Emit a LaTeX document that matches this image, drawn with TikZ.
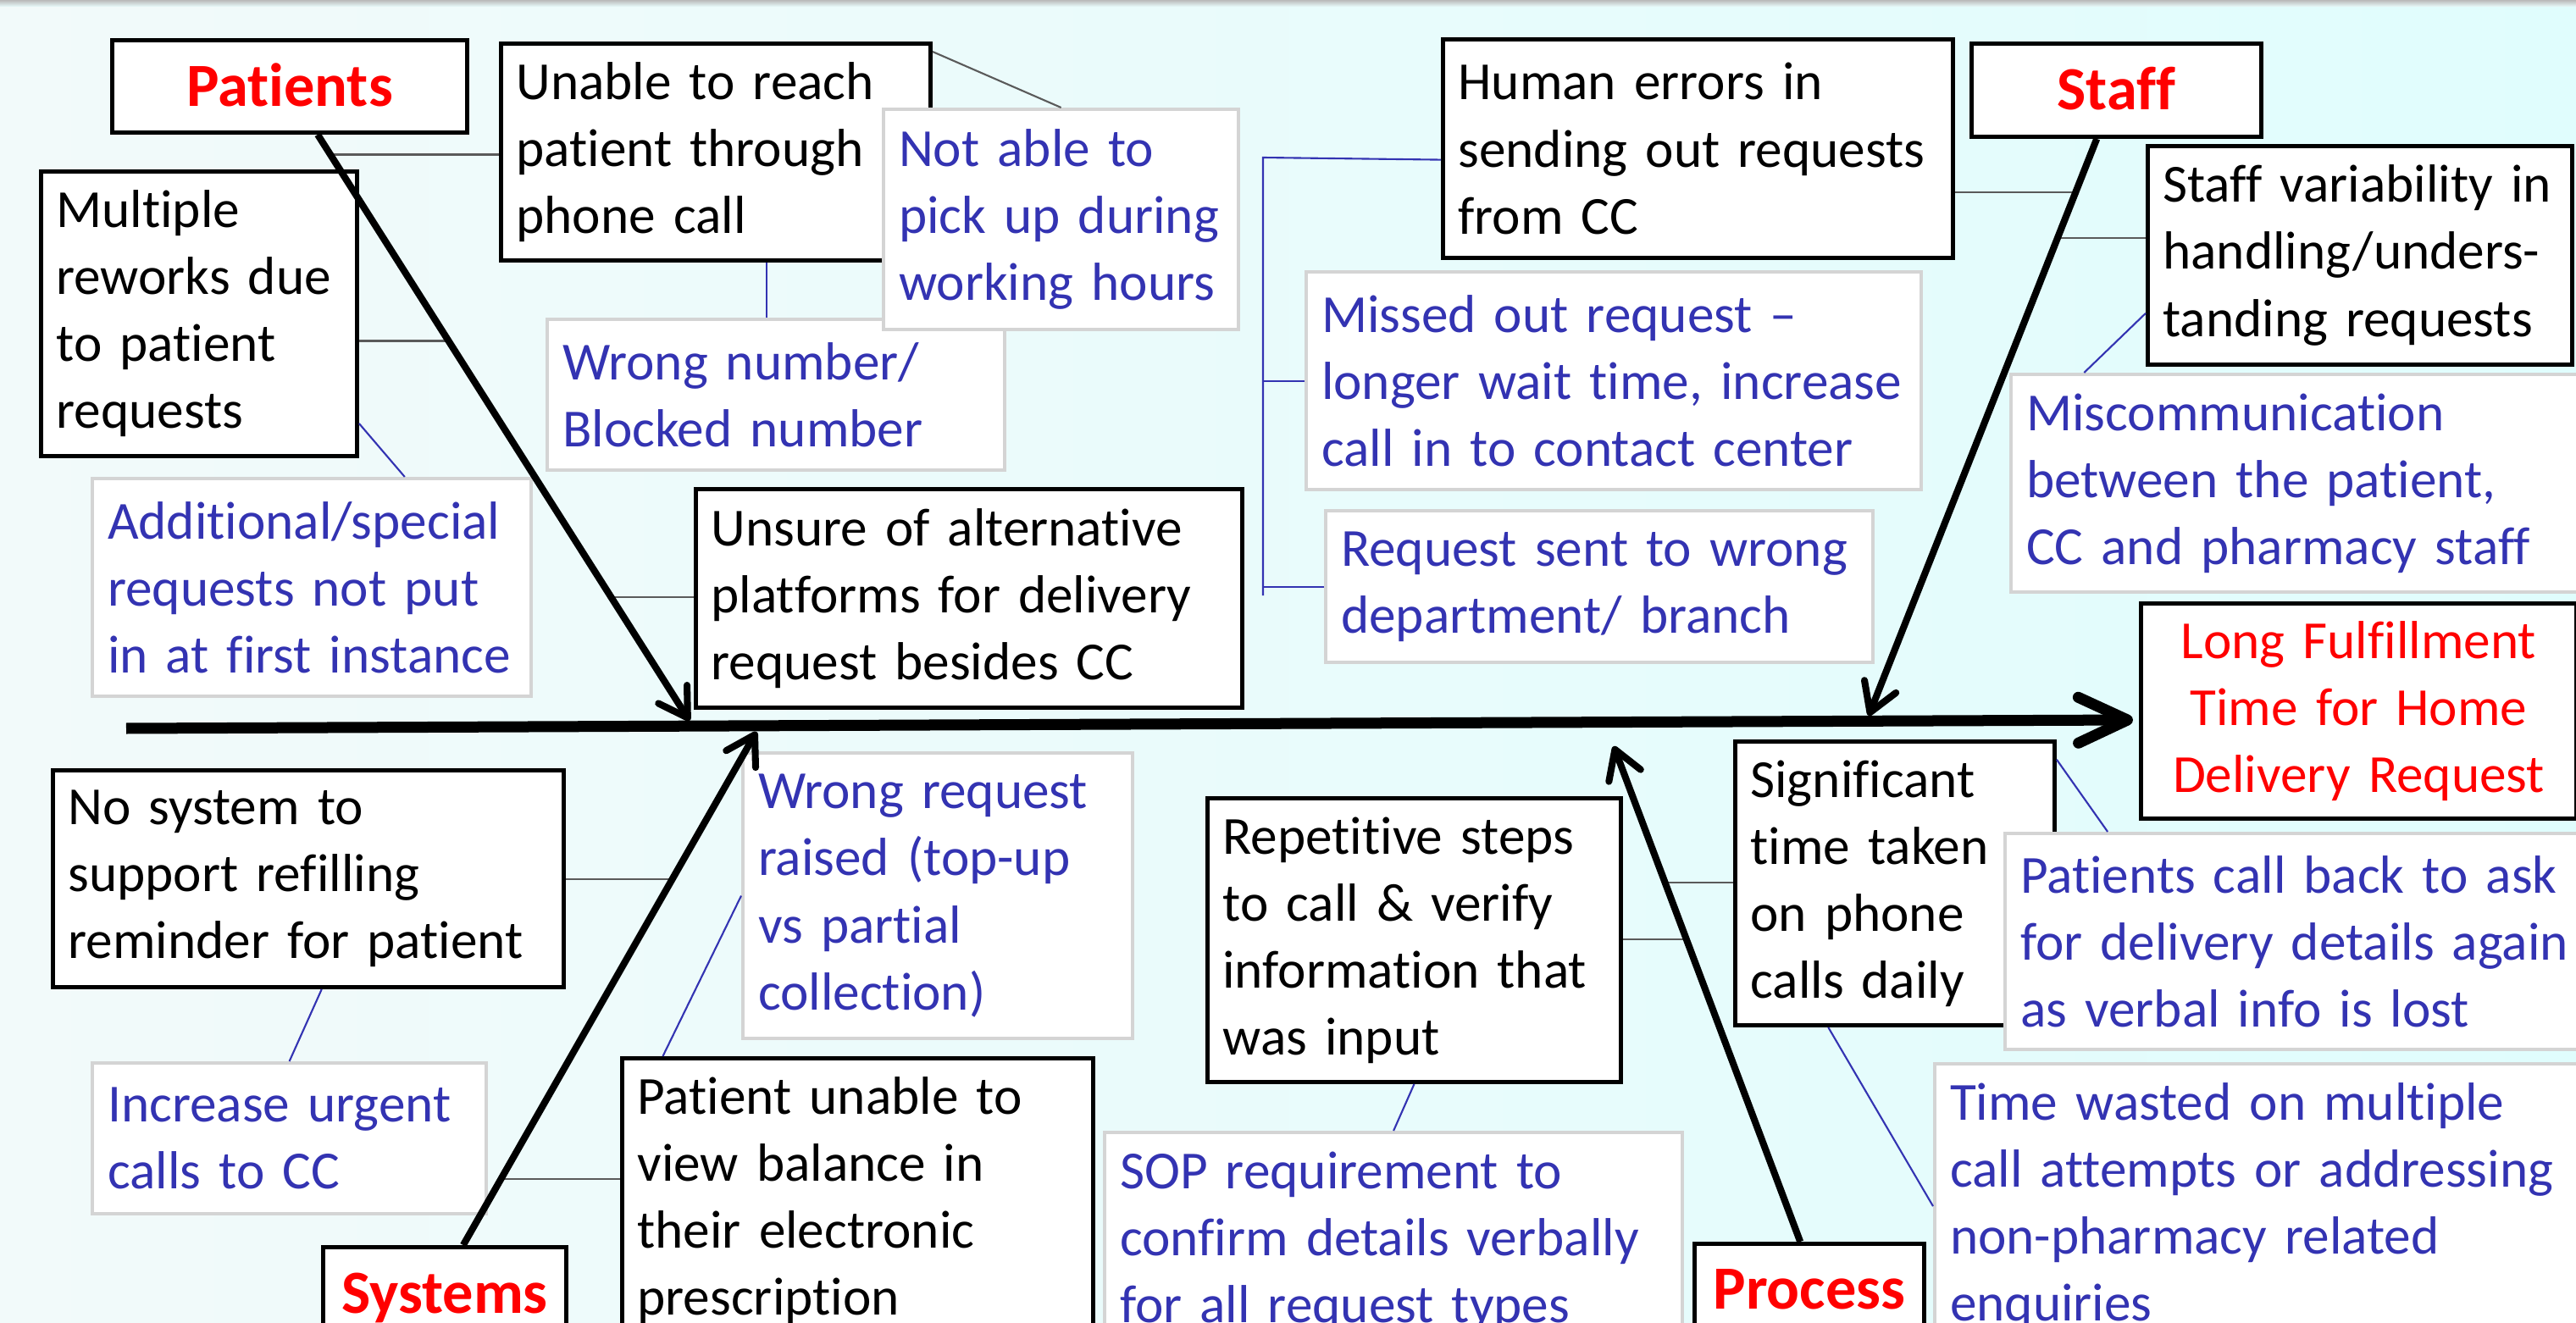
\documentclass[tikz,border=0pt]{standalone}
\usepackage{fontspec}
\setmainfont[Ligatures={TeX,NoCommon}]{Carlito}
\usepackage{tikz}
\usetikzlibrary{calc,arrows.meta}
\definecolor{causeblue}{HTML}{3333B2}
\definecolor{catred}{HTML}{FF0000}
\definecolor{linkgray}{HTML}{5A5A5A}
\definecolor{boxgray}{HTML}{D4D4D4}
\definecolor{bgleft}{HTML}{F2FAFA}
\definecolor{bgright}{HTML}{E0FDFD}
\tikzset{
  cause/.style={draw=black, line width=1.4pt, fill=white, anchor=north west, align=left,
    inner xsep=0.18cm, inner ysep=0pt, font=\fontsize{18.0}{22.5}\selectfont,
    execute at begin node={\hyphenpenalty=10000\exhyphenpenalty=10000}},
  subcause/.style={cause, draw=boxgray, line width=1.2pt, text=causeblue},
  effect/.style={cause, align=center, text=catred},
  cat/.style={draw=black, line width=1.4pt, fill=white, anchor=north west, text=catred,
    font=\fontsize{20.6}{24}\selectfont\bfseries, text height=0.47cm, text depth=0pt, inner sep=0pt},
  spine/.style={line width=3.7pt, -{Straight Barb[length=0.58cm, width=0.54cm, round]}},
  bone/.style={line width=2.3pt, -{Straight Barb[length=0.33cm, width=0.4cm, round]}},
  link/.style={draw=linkgray, line width=0.6pt},
  sublink/.style={draw=causeblue, line width=0.6pt},
}
\begin{document}
\begin{tikzpicture}
  \useasboundingbox (0,0) rectangle (30.41,-15.62);
  \shade[left color=bgleft, right color=bgright] (0,0) rectangle (30.41,-15.62);
  \shade[top color=gray!55, bottom color=bgright!50!bgleft] (0,0) rectangle (30.41,-0.08);

  % categories
  \node[cat, minimum width=4.19cm, minimum height=1.09cm] (patients) at (1.30,-0.45) {Patients};
  \node[cat, minimum width=3.42cm, minimum height=1.10cm] (staff) at (23.25,-0.49) {Staff};
  \node[cat, minimum width=2.87cm, minimum height=1.09cm] (systems) at (3.79,-14.70) {Systems};
  \node[cat, minimum width=2.71cm, minimum height=1.07cm] (process) at (19.98,-14.66) {Process};

  % problem
  \node[effect, text width=4.78cm, minimum height=2.54cm] (longfill) at (25.25,-7.10)
    {Long Fulfillment\\Time for Home\\Delivery Request};

  % patients
  \node[cause, text width=4.71cm, minimum height=2.56cm] (unable) at (5.89,-0.49)
    {Unable to reach\\patient through\\phone call};
  \node[subcause, text width=5.04cm, minimum height=1.78cm] (wrongnum) at (6.44,-3.75)
    {Wrong number/\\Blocked number};
  \node[subcause, text width=3.83cm, minimum height=2.60cm] (notable) at (10.41,-1.27)
    {Not able to\\pick up during\\working hours};
  \node[cause, text width=3.37cm, minimum height=3.36cm] (rework) at (0.46,-2.00)
    {Multiple\\reworks due\\to patient\\requests};
  \node[subcause, text width=4.82cm, minimum height=2.57cm] (additional) at (1.07,-5.63)
    {Additional/special\\requests not put\\in at first instance};
  \node[cause, text width=6.09cm, minimum height=2.58cm] (unsure) at (8.19,-5.75)
    {Unsure of alternative\\platforms for delivery\\request besides CC};

  % systems
  \node[cause, text width=5.67cm, minimum height=2.56cm] (nosystem) at (0.60,-9.07)
    {No system to\\support refilling\\reminder for patient};
  \node[subcause, text width=4.29cm, minimum height=1.78cm] (urgent) at (1.07,-12.53)
    {Increase urgent\\calls to CC};
  \node[subcause, text width=4.24cm, minimum height=3.37cm] (wrongreq) at (8.75,-8.87)
    {Wrong request\\raised (top-up\\vs partial\\collection)};
  \node[cause, text width=5.20cm, minimum height=3.36cm] (balance) at (7.32,-12.47)
    {Patient unable to\\view balance in\\their electronic\\prescription};

  % process
  \node[cause, text width=4.52cm, minimum height=3.35cm] (repetitive) at (14.23,-9.40)
    {Repetitive steps\\to call \& verify\\information that\\was input};
  \node[subcause, text width=6.46cm, minimum height=2.58cm] (sop) at (13.02,-13.35)
    {SOP requirement to\\confirm details verbally\\for all request types};
  \node[cause, text width=3.41cm, minimum height=3.35cm] (significant) at (20.46,-8.73)
    {Significant\\time taken\\on phone\\calls daily};
  \node[subcause, text width=6.84cm, minimum height=2.55cm] (callback) at (23.65,-9.82)
    {Patients call back to ask\\for delivery details again\\as verbal info is lost};
  \node[subcause, text width=7.34cm, minimum height=3.36cm] (wasted) at (22.82,-12.54)
    {Time wasted on multiple\\call attempts or addressing\\non-pharmacy related\\enquiries};

  % staff
  \node[cause, text width=5.66cm, minimum height=2.58cm] (human) at (17.01,-0.44)
    {Human errors in\\sending out requests\\from CC};
  \node[subcause, text width=6.90cm, minimum height=2.57cm] (missed) at (15.40,-3.19)
    {Missed out request --\\longer wait time, increase\\call in to contact center};
  \node[subcause, text width=6.10cm, minimum height=1.79cm] (sentwrong) at (15.63,-6.01)
    {Request sent to wrong\\department/ branch};
  \node[cause, text width=4.65cm, minimum height=2.58cm] (variability) at (25.33,-1.70)
    {Staff variability in\\handling/unders-\\tanding requests};
  \node[subcause, text width=6.39cm, minimum height=2.57cm] (miscomm) at (23.72,-4.40)
    {Miscommunication\\between the patient,\\CC and pharmacy staff};

  % bone ends
  \coordinate (tail) at (1.49,-8.60);
  \coordinate (head) at (25.18,-8.50);
  \coordinate (pstart) at ($(patients.south west)!0.578!(patients.south east)$);
  \coordinate (tstart) at ($(staff.south west)!0.433!(staff.south east)$);
  \coordinate (sstart) at ($(systems.north west)!0.575!(systems.north east)$);
  \coordinate (rstart) at ($(process.north west)!0.461!(process.north east)$);
  \coordinate (ptip) at (8.14,-8.51);
  \coordinate (ttip) at (22.06,-8.45);
  \coordinate (stip) at (8.93,-8.64);
  \coordinate (rtip) at (19.05,-8.81);

  % links from the bones
  \coordinate (pa) at ($(pstart)!0.034!(ptip)$);
  \coordinate (pb) at ($(pstart)!0.352!(ptip)$);
  \coordinate (pc) at ($(pstart)!0.789!(ptip)$);
  \coordinate (sd) at ($(sstart)!0.713!(stip)$);
  \coordinate (se) at ($(sstart)!0.129!(stip)$);
  \coordinate (rf) at ($(rstart)!0.610!(rtip)$);
  \coordinate (rg) at ($(rstart)!0.725!(rtip)$);
  \coordinate (th) at ($(tstart)!0.093!(ttip)$);
  \coordinate (ti) at ($(tstart)!0.172!(ttip)$);
  \draw[link] (pa) -- (pa -| unable.west);
  \draw[link] (pb) -- (pb -| rework.east);
  \draw[link] (pc) -- (pc -| unsure.west);
  \draw[link] (sd) -- (sd -| nosystem.east);
  \draw[link] (se) -- (se -| balance.west);
  \draw[link] (rf) -- (rf -| repetitive.east);
  \draw[link] (rg) -- (rg -| significant.west);
  \draw[link] (th) -- (th -| human.east);
  \draw[link] (ti) -- (ti -| variability.west);

  % links between causes
  \draw[link] ($(unable.north east)+(0,-0.12)$) -- (notable.north);
  \coordinate (uj) at ($(unable.south west)!0.617!(unable.south east)$);
  \draw[sublink] (uj) -- (uj |- wrongnum.north);
  \draw[sublink] ($(rework.north east)!0.88!(rework.south east)$)
    -- ($(additional.north west)!0.71!(additional.north east)$);
  \draw[sublink] ($(variability.north west)!0.76!(variability.south west)$)
    -- ($(miscomm.north west)!0.13!(miscomm.north east)$);
  \coordinate (brk) at (14.91,-1.86);
  \draw[sublink] ($(human.north west)!0.55!(human.south west)$) -- (brk) -- ++(0,-5.17);
  \draw[sublink] (missed.west) -- (missed.west -| brk);
  \draw[sublink] (sentwrong.west) -- (sentwrong.west -| brk);
  \draw[sublink] ($(nosystem.south west)!0.526!(nosystem.south east)$) -- (urgent.north);
  \draw[sublink] ($(balance.north west)!0.09!(balance.north east)$) -- (wrongreq.west);
  \draw[sublink] (repetitive.south) -- (sop.north);
  \draw[sublink] ($(significant.north east)!0.07!(significant.south east)$)
    -- ($(callback.north west)!0.17!(callback.north east)$);
  \draw[sublink] ($(significant.south west)!0.294!(significant.south east)$) -- (wasted.west);

  % spine and bones
  \draw[spine] (tail) -- (head);
  \draw[bone] (pstart) -- (ptip);
  \draw[bone] (tstart) -- (ttip);
  \draw[bone] (sstart) -- (stip);
  \draw[bone] (rstart) -- (rtip);
\end{tikzpicture}
\end{document}
